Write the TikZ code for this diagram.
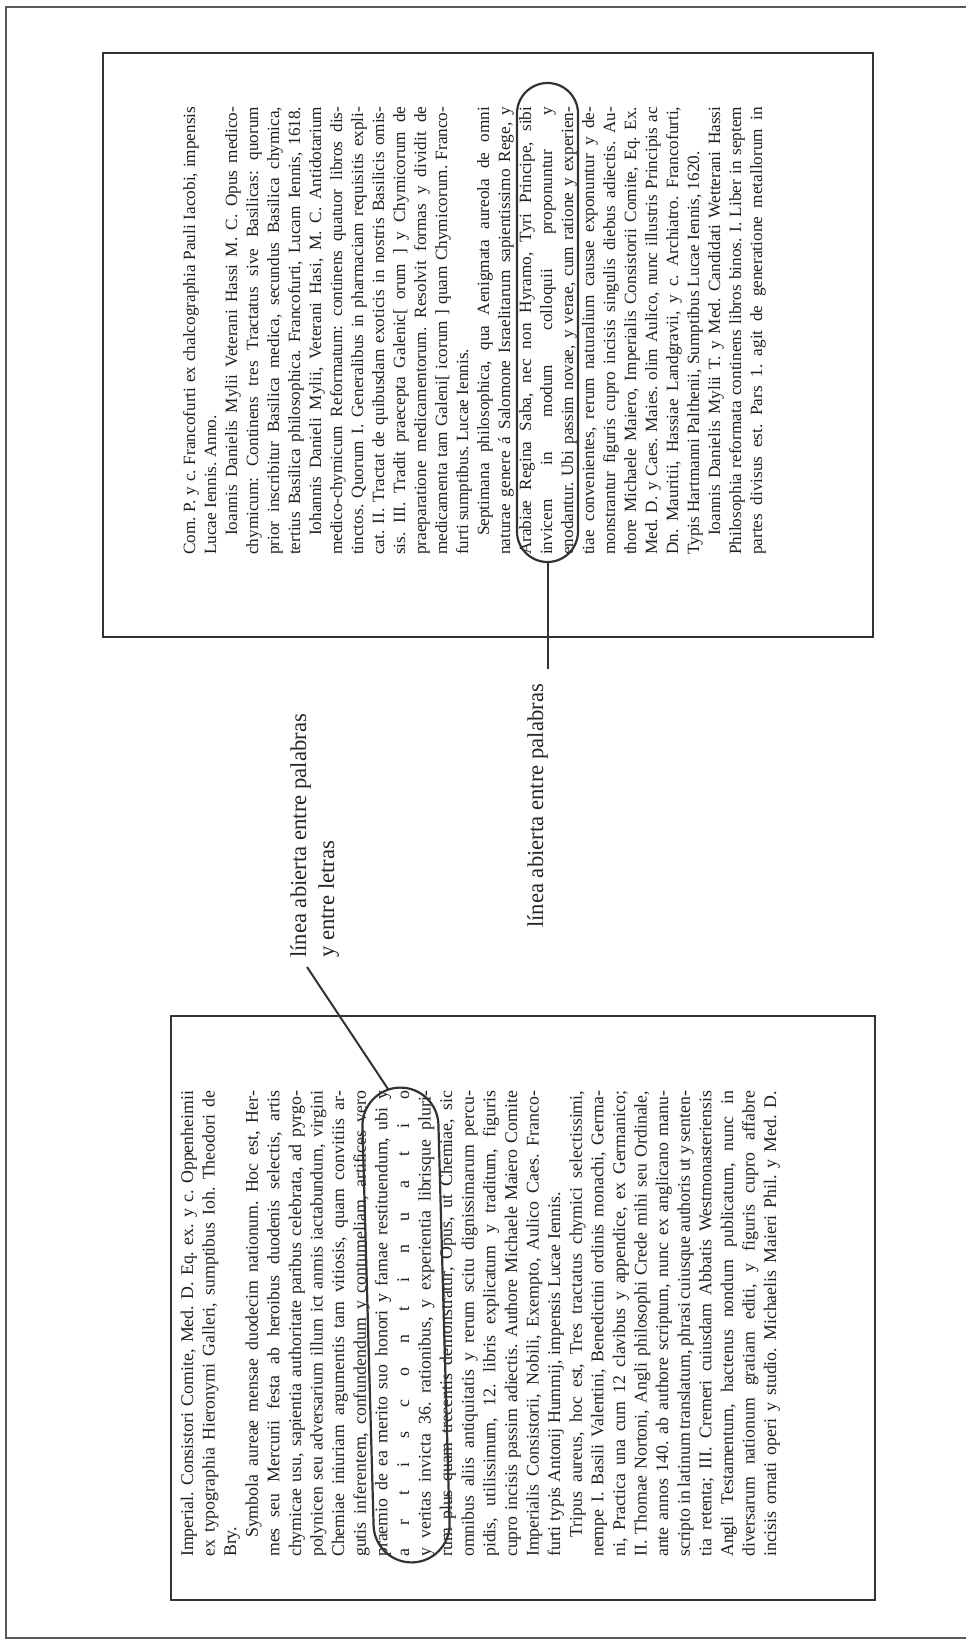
\documentclass[tikz,border=0pt]{standalone}
\usepackage{fontspec}
\setmainfont{Liberation Serif}
\usetikzlibrary{calc,shapes.misc}

% justified, indented, ragged and letter-spaced lines of a page
\newlength\linelen
\newlength\parind
\setlength\parind{19pt}
\newcommand\jline[1]{\hbox to\linelen{\frenchspacing\spaceskip=.25em plus 1fil minus .3em\relax #1}}
\newcommand\iline[1]{\hbox to\linelen{\frenchspacing\spaceskip=.25em plus 1fil minus .3em\relax\hskip\parind #1}}
\newcommand\rline[1]{\hbox to\linelen{\frenchspacing #1\hfill}}
\newcommand\irline[1]{\hbox to\linelen{\frenchspacing\hskip\parind #1\hfill}}

\definecolor{ink}{gray}{0.12}
\definecolor{pen}{gray}{0.2}

\tikzset{
  frame/.style={draw=black!65, line width=1.4pt},
  pagebox/.style={draw=black!80, line width=1.8pt},
  pgtxt/.style={rotate=90, anchor=base west, inner sep=0pt, text=ink},
  pgA/.style={pgtxt, font=\fontsize{17.2}{19}\selectfont},
  pgB/.style={pgtxt, font=\fontsize{17.8}{19}\selectfont},
  lbl/.style={rotate=90, anchor=base west, inner sep=0pt, text=black!85,
              font=\fontsize{22.7}{27}\selectfont},
  oval/.style={draw=pen, line width=2.2pt, rounded rectangle, inner sep=0pt},
  conn/.style={draw=pen, line width=2pt},
}

\begin{document}
\begin{tikzpicture}[x=1pt, y=-1pt]
\useasboundingbox (0,0) rectangle (966,1643);

% outer frame of the sheet
\draw[frame] (966,7) -- (6,7) -- (6,1638) -- (966,1638);

% the two page excerpts
\draw[pagebox] (103,53) rectangle (873,637);
\draw[pagebox] (171,1016) rectangle (875,1600);

% upper page
\global\linelen=448pt
\foreach \t [count=\i] in {
 {\jline{Com. P. y c. Francofurti ex chalcographia Pauli Iacobi, impensis}},
 {\rline{Lucae Iennis. Anno.}},
 {\iline{Ioannis Danielis Mylii Veterani Hassi M. C. Opus medico-}},
 {\jline{chymicum: Continens tres Tractatus sive Basilicas: quorum}},
 {\jline{prior inscribitur Basilica medica, secundus Basilica chymica,}},
 {\jline{tertius Basilica philosophica. Francofurti, Lucam Iennis, 1618.}},
 {\iline{Iohannis Danieli Mylii, Veterani Hasi, M. C. Antidotarium}},
 {\jline{medico-chymicum Reformatum: continens quatuor libros dis-}},
 {\jline{tinctos. Quorum I. Generalibus in pharmaciam requisitis expli-}},
 {\jline{cat. II. Tractat de quibusdam exoticis in nostris Basilicis omis-}},
 {\jline{sis. III. Tradit praecepta Galenic[ orum ] y Chymicorum de}},
 {\jline{praeparatione medicamentorum. Resolvit formas y dividit de}},
 {\jline{medicamenta tam Galeni[ icorum ] quam Chymicorum. Franco-}},
 {\rline{furti sumptibus. Lucae Iennis.}},
 {\iline{Septimana philosophica, qua Aenigmata aureola de omni}},
 {\jline{naturae genere á Salomone Israelitarum sapientissimo Rege, y}},
 {\jline{Arabiae Regina Saba, nec non Hyramo, Tyri Principe, sibi}},
 {\jline{invicem in modum colloquii proponuntur y}},
 {\jline{enodantur. Ubi passim novae, y verae, cum ratione y experien-}},
 {\jline{tiae convenientes, rerum naturalium causae exponuntur y de-}},
 {\jline{monstrantur figuris cupro incisis singulis diebus adiectis. Au-}},
 {\jline{thore Michaele Maiero, Imperialis Consistorii Comite, Eq. Ex.}},
 {\jline{Med. D. y Caes. Maies. olim Aulico, nunc illustris Principis ac}},
 {\jline{Dn. Mauritii, Hassiae Landgravii, y c. Archiatro. Francofurti,}},
 {\rline{Typis Hartmanni Palthenii, Sumptibus Lucae Iennis, 1620.}},
 {\iline{Ioannis Danielis Mylii T. y Med. Candidati Wetterani Hassi}},
 {\jline{Philosophia reformata continens libros binos. I. Liber in septem}},
 {\jline{partes divisus est. Pars 1. agit de generatione metallorum in}}
}{
  \node[pgA] (a\i) at ({195+(\i-1)*21}, 555) {\t};
}

% lower page
\global\linelen=466pt
\foreach \t [count=\i] in {
 {\jline{Imperial. Consistori Comite, Med. D. Eq. ex. y c. Oppenheimii}},
 {\jline{ex typographia Hieronymi Galleri, sumptibus Ioh. Theodori de}},
 {\rline{Bry.}},
 {\iline{Symbola aureae mensae duodecim nationum. Hoc est, Her-}},
 {\jline{mes seu Mercurii festa ab heroibus duodenis selectis, artis}},
 {\jline{chymicae usu, sapientia authoritate paribus celebrata, ad pyrgo-}},
 {\jline{polynicen seu adversarium illum ict anmis iactabundum, virgini}},
 {\jline{Chemiae iniuriam argumentis tam vitiosis, quam convitiis ar-}},
 {\jline{gutis inferentem, confundendum y contumeliam, artifices vero}},
 {\jline{praemio de ea merito suo honori y famae restituendum, ubi y}},
 {\hbox to\linelen{a\hfill r\hfill t\hfill i\hfill s\hfill c\hfill o\hfill n\hfill t\hfill i\hfill n\hfill u\hfill a\hfill t\hfill i\hfill o}},
 {\jline{y veritas invicta 36. rationibus, y experientia librisque pluri-}},
 {\jline{rum plus quam trecentis demonstratur, Opus, ut Chemiae, sic}},
 {\jline{omnibus aliis antiquitatis y rerum scitu dignissimarum percu-}},
 {\jline{pidis, utilissimum, 12. libris explicatum y traditum, figuris}},
 {\jline{cupro incisis passim adiectis. Authore Michaele Maiero Comite}},
 {\jline{Imperialis Consistorii, Nobili, Exempto, Aulico Caes. Franco-}},
 {\rline{furti typis Antonij Hummij, impensis Lucae Iennis.}},
 {\iline{Tripus aureus, hoc est, Tres tractatus chymici selectissimi,}},
 {\jline{nempe I. Basili Valentini, Benedictini ordinis monachi, Germa-}},
 {\jline{ni, Practica una cum 12 clavibus y appendice, ex Germanico;}},
 {\jline{II. Thomae Nortoni, Angli philosophi Crede mihi seu Ordinale,}},
 {\jline{ante annos 140. ab authore scriptum, nunc ex anglicano manu-}},
 {\jline{scripto in latinum translatum, phrasi cuiusque authoris ut y senten-}},
 {\jline{tia retenta; III. Cremeri cuiusdam Abbatis Westmonasteriensis}},
 {\jline{Angli Testamentum, hactenus nondum publicatum, nunc in}},
 {\jline{diversarum nationum gratiam editi, y figuris cupro affabre}},
 {\jline{incisis ornati operi y studio. Michaelis Maieri Phil. y Med. D.}}
}{
  \node[pgB] (b\i) at ({193+(\i-1)*21.6}, 1557) {\t};
}

% hand-drawn loops round the opened lines
\node[oval, minimum width=479pt, minimum height=61pt, rotate=90] (el2) at (547.5,322.5) {};
\node[oval, minimum width=475pt, minimum height=76pt, rotate=91.6] (el1) at (406,1325) {};

% labels
\node[lbl] (lab1a) at (306,958) {línea abierta entre palabras};
\node[lbl] (lab1b) at (334,958) {y entre letras};
\node[lbl] (lab2) at (543,928) {línea abierta entre palabras};

% leader lines
\draw[conn] ($(lab1a.base west)+(1,9)$) -- ($(el1.east)+(-11,3)$);
\draw[conn] (el2.west) -- ($(el2.west |- lab2.base east)+(0,-15)$);
\end{tikzpicture}
\end{document}
